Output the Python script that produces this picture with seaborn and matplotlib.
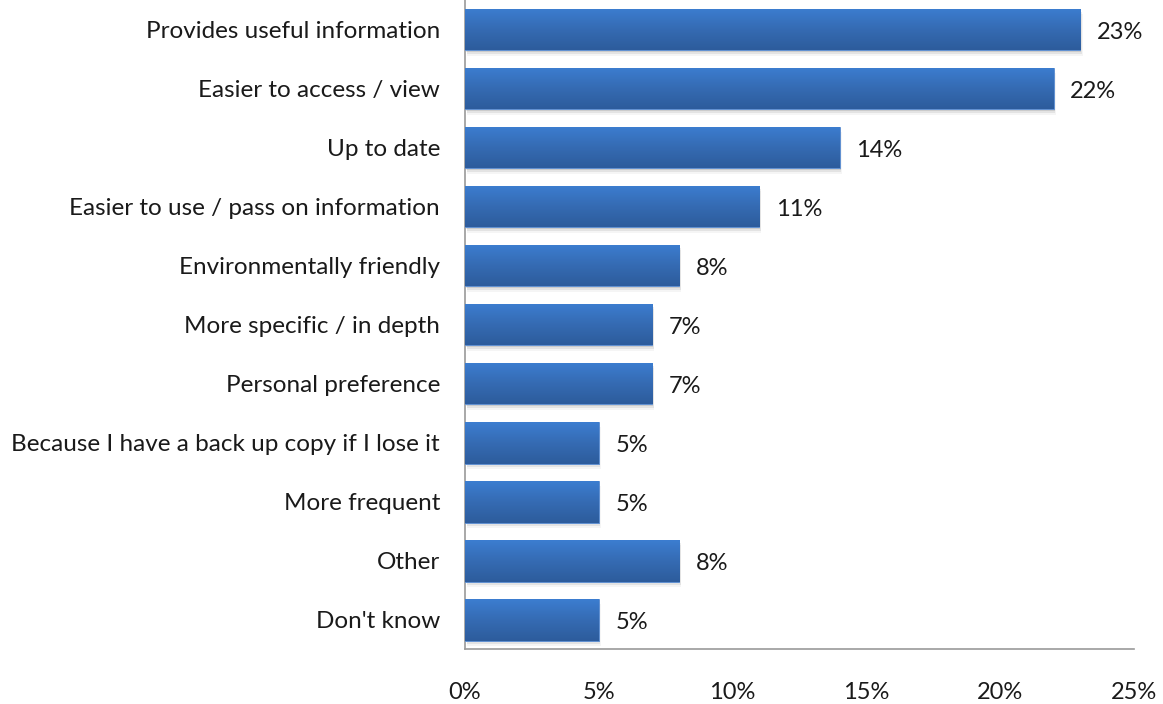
import numpy as np
import pandas as pd
import matplotlib
matplotlib.use("Agg")
import matplotlib.pyplot as plt
from matplotlib.colors import LinearSegmentedColormap
from matplotlib.patches import Rectangle
import seaborn as sns

categories = [
    "Provides useful information",
    "Easier to access / view",
    "Up to date",
    "Easier to use / pass on information",
    "Environmentally friendly",
    "More specific / in depth",
    "Personal preference",
    "Because I have a back up copy if I lose it",
    "More frequent",
    "Other",
    "Don't know",
]
values = [23, 22, 14, 11, 8, 7, 7, 5, 5, 8, 5]
xticks = [0, 5, 10, 15, 20, 25]

sns.set_theme(style="white")
plt.rcParams["font.family"] = ["Lato", "DejaVu Sans"]

df = pd.DataFrame({"reason": categories, "pct": values})

fig = plt.figure(figsize=(11.63, 7.04), dpi=100)
ax = fig.add_axes([0.3998, 0.078, 0.5752, 0.922])

sns.barplot(data=df, y="reason", x="pct", order=categories, color="#3a72bf",
            width=0.71, ax=ax, zorder=3)

# vertical gradient fill and soft drop shadow for each bar
grad = LinearSegmentedColormap.from_list("bar", ["#2d5c9c", "#356bb3", "#3c7dd0"])
gimg = np.linspace(0, 1, 64).reshape(-1, 1)
for p in ax.patches:
    x0, y0 = p.get_x(), p.get_y()
    w, h = p.get_width(), p.get_height()
    top, bot = min(y0, y0 + h), max(y0, y0 + h)
    for k, a in enumerate([0.10, 0.07, 0.04]):
        off = 0.03 + 0.03 * k
        ax.add_patch(Rectangle((x0 + 0.04 + 0.02 * k, top + off), w, h,
                               facecolor="black", alpha=a, edgecolor="none", zorder=2))
    im = ax.imshow(gimg, extent=[x0, x0 + w, bot, top], origin="lower",
                   cmap=grad, aspect="auto", zorder=4)
    im.set_clip_path(p)
    p.set_edgecolor("#5b8fd6")
    p.set_linewidth(0.6)

for i, v in enumerate(values):
    ax.text(v + 0.62, i + 0.05, f"{v}%", va="center", ha="left", fontsize=17,
            color="#1a1a1a", zorder=5)

ax.set_xlim(0, 25)
ax.set_ylim(len(categories) - 0.5, -0.5)
ax.set_xticks(xticks)
ax.set_xticklabels([f"{t}%" for t in xticks])
ax.tick_params(axis="x", labelsize=17, colors="#1a1a1a", pad=24, length=0)
ax.tick_params(axis="y", labelsize=17.5, colors="#1a1a1a", pad=18, length=0)
ax.set_xlabel("")
ax.set_ylabel("")
for s in ["top", "right"]:
    ax.spines[s].set_visible(False)
for s in ["left", "bottom"]:
    ax.spines[s].set_color("#9a9a9a")
    ax.spines[s].set_linewidth(1.2)
ax.set_axisbelow(True)

fig.savefig("out.png", dpi=100, facecolor="white")
